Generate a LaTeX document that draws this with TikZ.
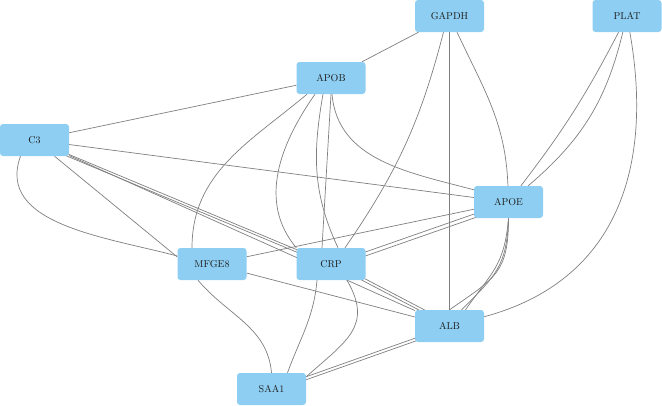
\documentclass[tikz,border=0pt]{standalone}
\usepackage{tikz}
\usetikzlibrary{positioning,backgrounds}
\definecolor{nodeblue}{HTML}{8DCEF2}
\definecolor{edgegray}{HTML}{7F7F7F}
\definecolor{labeltext}{HTML}{1E1E1E}

\begin{document}
\begin{tikzpicture}[x=1pt,y=1pt,
  gene/.style={fill=nodeblue,rounded corners=3pt,minimum width=69pt,minimum height=32pt,inner sep=0pt,text=labeltext},
  link/.style={draw=edgegray,line width=0.7pt}]
  \useasboundingbox (0,0) rectangle (662,-405);

  % Genes
  \node[gene] (gapdh) at (449.5,-16) {GAPDH};
  \node[gene] (plat) at (627,-16) {PLAT};
  \node[gene] (apob) at (331,-78) {APOB};
  \node[gene] (c3) at (34.5,-140) {C3};
  \node[gene] (apoe) at (508.5,-202) {APOE};
  \node[gene] (mfge8) at (212,-264) {MFGE8};
  \node[gene] (crp) at (331,-264) {CRP};
  \node[gene] (alb) at (449.5,-326) {ALB};
  \node[gene] (saa1) at (271.5,-389) {SAA1};

  \begin{pgfonlayer}{background}
  % GAPDH and PLAT
  \draw[link] (gapdh) -- (apob);
  \draw[link] ([xshift=-6pt]gapdh.south) to[bend left=10] ([xshift=14pt]crp.north);
  \draw[link] (gapdh) -- (alb);
  \draw[link] (gapdh) to[out=-65,in=92] (apoe);
  \draw[link] (plat) to[bend left=5] (apoe);
  \draw[link] (plat) to[bend left=18] (apoe);
  \draw[link] (plat) to[out=-80,in=15,looseness=1.1] (alb);

  % APOB
  \draw[link] (apob) -- (c3);
  \draw[link] ([xshift=-24pt]apob.south) to[out=-140,in=90] ([xshift=-20pt]mfge8.north);
  \draw[link] ([xshift=-16pt]apob.south) to[out=-125,in=130] (crp.north west);
  \draw[link] ([xshift=-8pt]apob.south) to[out=-100,in=115] ([xshift=7pt]crp.north);
  \draw[link] (apob.south) -- ([xshift=-9pt]crp.north);
  \draw[link] ([xshift=1pt]apob.south) to[out=-85,in=165] ([yshift=-4pt]apoe.north west);

  % C3
  \draw[link] (c3) -- (apoe);
  \draw[link] (c3.center) -- (crp.center);
  \draw[link] ([yshift=-2.5pt]c3.center) -- ([yshift=-2.5pt]crp.center);
  \draw[link] (c3) -- (alb);
  \draw[link] ([xshift=20pt]c3.south) -- ([yshift=7pt]mfge8.west);
  \draw[link] ([xshift=-14pt]c3.south) to[out=-110,in=165] ([yshift=8pt]mfge8.west);

  % APOE
  \draw[link] (apoe) -- (mfge8);
  \draw[link] (apoe.center) -- (crp.center);
  \draw[link] ([yshift=-4pt]apoe.center) -- ([yshift=-4pt]crp.center);
  \draw[link] (apoe.south) to[out=-90,in=35,looseness=1.3] (alb.north);
  \draw[link] (apoe.south) to[out=-92,in=45,looseness=1.2] ([xshift=12pt]alb.north);
  \draw[link] (apoe.south) to[out=-95,in=55,looseness=1.2] ([xshift=16pt]alb.north);

  % CRP, MFGE8, ALB and SAA1
  \draw[link] (crp.center) -- (alb.center);
  \draw[link] ([yshift=3pt]crp.center) -- ([yshift=3pt]alb.center);
  \draw[link] ([xshift=-14pt]crp.south) to[out=-95,in=70] ([xshift=16pt]saa1.north);
  \draw[link] ([xshift=16pt]crp.south) to[out=-60,in=42,looseness=1.3] ([yshift=-4pt]saa1.north east);
  \draw[link] (mfge8) -- (alb);
  \draw[link] ([xshift=-14pt]mfge8.south) to[out=-50,in=95] (saa1.north);
  \draw[link] (alb.center) -- (saa1.center);
  \draw[link] ([yshift=-3pt]alb.center) -- ([yshift=-3pt]saa1.center);
  \end{pgfonlayer}
\end{tikzpicture}
\end{document}
